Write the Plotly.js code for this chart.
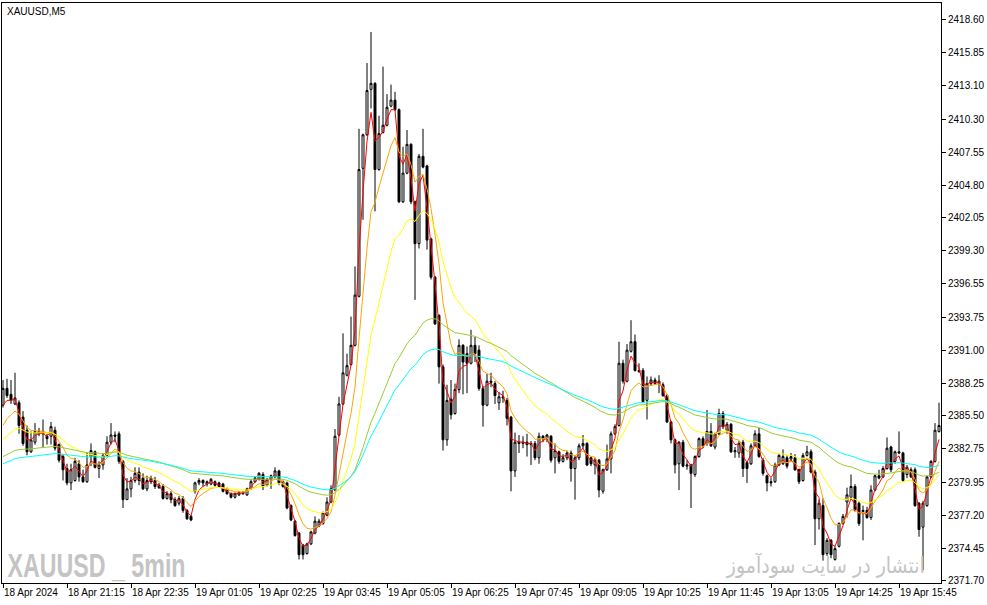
<!DOCTYPE html>
<html><head><meta charset="utf-8">
<script src="https://cdn.plot.ly/plotly-3.0.1.min.js"></script>
<style>html,body{margin:0;padding:0;background:#fff}#chart{width:987px;height:605px}</style>
</head><body><div id="chart"></div>
<script>
// XAUUSD M5 candles (bar index 0..234)
const opens = [
2386.4,2387.8,2387.3,2386.5,2386.6,2385.4,2384.3,2382.5,2383.3,2384.0,
2384.2,2383.8,2383.8,2384.3,2383.1,2382.1,2381.1,2379.9,2380.1,2381.5,
2380.4,2380.0,2382.1,2382.5,2381.1,2381.4,2382.2,2383.3,2383.9,2384.0,
2381.7,2378.5,2379.4,2380.1,2380.8,2380.3,2379.4,2380.0,2380.1,2379.7,
2379.6,2378.6,2379.0,2378.5,2378.2,2378.6,2377.6,2377.1,2379.2,2379.9,
2380.1,2379.8,2379.8,2380.0,2379.9,2379.8,2379.4,2379.0,2378.7,2378.9,
2379.0,2378.9,2379.4,2380.0,2380.2,2380.6,2379.7,2380.2,2380.4,2380.9,
2380.0,2379.9,2378.0,2376.7,2375.7,2374.7,2374.0,2374.8,2375.7,2376.3,
2376.5,2377.2,2378.3,2379.3,2383.9,2386.5,2388.9,2389.8,2391.4,2395.5,
2406.2,2409.0,2412.8,2413.3,2406.1,2409.2,2409.8,2411.4,2411.9,2411.1,
2403.4,2405.8,2408.2,2403.4,2399.9,2407.2,2406.4,2400.3,2397.1,2393.9,
2389.6,2383.5,2386.9,2385.7,2387.7,2391.4,2390.7,2389.9,2391.4,2391.0,
2387.8,2386.4,2388.3,2388.2,2386.6,2387.1,2386.8,2385.4,2380.9,2383.3,
2383.2,2383.3,2383.1,2383.2,2382.0,2383.8,2383.6,2383.8,2382.0,2382.5,
2381.7,2382.0,2382.4,2381.1,2382.0,2383.0,2383.2,2382.0,2381.4,2381.8,
2379.2,2381.0,2381.9,2384.0,2384.7,2389.9,2388.4,2390.9,2391.7,2389.3,
2389.3,2386.8,2388.2,2388.5,2388.2,2388.1,2387.2,2385.0,2383.5,2381.5,
2383.3,2381.3,2381.4,2380.6,2382.1,2383.6,2383.2,2384.2,2382.9,2384.0,
2385.7,2384.3,2384.8,2382.5,2382.4,2383.3,2381.6,2381.5,2383.0,2384.0,
2381.8,2380.5,2380.0,2380.0,2381.4,2381.5,2382.0,2381.9,2382.0,2381.0,
2380.1,2382.2,2382.5,2380.8,2376.9,2378.0,2374.0,2375.1,2373.5,2374.6,
2376.5,2378.3,2378.7,2379.6,2378.2,2377.5,2377.6,2377.0,2379.3,2380.5,
2380.4,2381.1,2382.9,2381.7,2382.5,2382.4,2380.6,2381.0,2381.0,2378.2,
2376.2,2378.0,2380.4,2381.7,2384.2
];
const highs = [
2388.5,2388.6,2388.5,2389.1,2386.8,2385.9,2384.7,2384.2,2384.9,2384.5,
2385.2,2384.0,2385.0,2384.6,2383.2,2382.3,2381.5,2381.5,2382.0,2381.8,
2381.0,2382.4,2383.2,2382.6,2381.7,2382.4,2383.8,2384.9,2384.2,2384.2,
2381.8,2380.3,2380.4,2381.2,2381.2,2380.7,2380.5,2380.5,2380.4,2379.9,
2379.8,2379.2,2379.2,2378.7,2378.8,2378.8,2377.7,2377.2,2380.0,2380.3,
2380.2,2380.1,2380.3,2380.1,2380.0,2379.9,2379.5,2379.1,2379.1,2379.2,
2379.2,2379.5,2380.2,2380.4,2380.8,2380.8,2380.3,2380.6,2381.2,2381.0,
2380.1,2380.0,2378.1,2376.8,2375.8,2374.8,2374.9,2375.9,2377.1,2376.9,
2377.5,2378.7,2379.7,2384.4,2387.1,2392.4,2390.7,2393.8,2398.0,2409.5,
2409.1,2415.0,2417.6,2413.4,2410.6,2414.7,2412.4,2413.2,2412.6,2411.2,
2408.0,2409.4,2408.3,2403.5,2407.4,2409.5,2406.5,2400.4,2397.2,2394.0,
2389.8,2388.1,2388.5,2388.2,2391.9,2391.5,2391.3,2392.7,2392.1,2391.4,
2388.0,2389.0,2389.1,2388.4,2387.5,2387.6,2387.0,2385.5,2384.1,2383.9,
2383.8,2384.0,2383.4,2383.4,2384.1,2383.9,2384.0,2383.9,2383.2,2382.6,
2382.3,2382.6,2382.6,2382.2,2383.2,2383.9,2383.3,2382.1,2382.0,2381.9,
2381.1,2383.1,2384.2,2384.8,2391.7,2390.2,2391.5,2393.5,2392.3,2389.9,
2389.5,2388.8,2388.8,2388.7,2388.9,2388.3,2387.3,2385.1,2383.6,2383.4,
2383.5,2381.8,2381.5,2382.2,2383.7,2383.8,2386.0,2384.9,2384.1,2386.1,
2385.9,2385.0,2384.9,2382.9,2383.4,2383.5,2381.7,2383.2,2384.3,2384.5,
2382.0,2380.6,2380.3,2381.6,2382.3,2382.7,2382.2,2382.4,2382.3,2381.1,
2382.4,2383.0,2382.7,2381.0,2378.5,2378.6,2375.3,2375.2,2374.6,2376.6,
2377.3,2379.5,2380.6,2379.8,2378.4,2378.0,2377.9,2379.7,2380.6,2381.0,
2381.3,2383.7,2383.0,2382.6,2384.2,2382.5,2381.4,2381.2,2381.2,2378.3,
2378.4,2380.5,2381.8,2384.9,2386.6
];
const lows = [
2386.2,2387.0,2386.5,2386.4,2384.0,2383.0,2382.2,2382.4,2383.1,2383.8,
2382.9,2383.1,2383.1,2382.6,2381.6,2380.1,2379.7,2379.3,2380.0,2380.0,
2379.9,2379.9,2381.3,2381.1,2380.3,2381.0,2382.1,2383.1,2383.3,2381.5,
2377.8,2378.5,2378.7,2379.9,2379.7,2379.3,2379.2,2379.8,2379.4,2379.4,
2378.5,2378.5,2378.2,2377.9,2378.0,2377.4,2376.8,2376.7,2379.0,2379.7,
2379.6,2379.6,2379.7,2379.6,2379.5,2379.1,2378.9,2378.6,2378.6,2378.8,
2378.9,2378.8,2379.3,2379.9,2380.1,2379.3,2379.6,2379.4,2380.3,2379.7,
2379.5,2377.7,2376.7,2375.4,2373.5,2373.5,2373.9,2374.7,2375.6,2376.2,
2376.4,2377.1,2378.2,2379.2,2383.8,2386.4,2388.8,2389.7,2391.3,2395.4,
2401.9,2408.9,2411.2,2402.6,2406.0,2409.1,2409.7,2411.3,2411.0,2403.3,
2403.3,2405.7,2403.2,2395.2,2399.5,2406.2,2399.4,2396.9,2393.1,2388.2,
2382.6,2383.0,2385.2,2385.6,2387.4,2387.3,2387.4,2389.8,2390.0,2387.6,
2384.6,2386.3,2387.9,2386.5,2386.0,2386.6,2384.7,2379.2,2380.4,2382.4,
2382.8,2382.1,2381.4,2381.8,2381.5,2383.3,2383.3,2381.6,2380.7,2381.5,
2381.6,2381.8,2380.0,2378.5,2381.8,2382.8,2381.3,2381.3,2380.6,2378.7,
2379.0,2380.9,2380.7,2383.9,2384.6,2388.2,2388.3,2390.8,2389.2,2389.1,
2386.6,2385.2,2388.0,2388.1,2387.4,2387.1,2384.9,2383.2,2380.7,2379.3,
2381.2,2381.0,2377.8,2380.4,2382.0,2382.8,2383.0,2382.9,2382.7,2383.9,
2384.4,2384.0,2382.4,2382.0,2382.0,2380.4,2379.9,2381.4,2382.9,2382.0,
2380.5,2379.2,2379.6,2379.9,2381.3,2381.4,2381.1,2381.8,2380.9,2379.8,
2380.0,2382.1,2380.7,2374.7,2376.0,2373.4,2373.8,2373.6,2373.4,2374.5,
2376.4,2377.0,2378.6,2377.5,2376.3,2375.1,2376.9,2376.8,2379.2,2380.2,
2380.3,2381.0,2380.8,2381.5,2382.3,2380.0,2380.3,2380.3,2377.9,2375.4,
2372.6,2377.9,2380.3,2381.6,2384.1
];
const closes = [
2387.8,2387.2,2386.8,2387.0,2384.7,2383.2,2382.5,2383.5,2384.2,2384.2,
2384.0,2383.6,2384.6,2382.8,2381.8,2381.0,2379.9,2381.0,2381.7,2380.4,
2380.0,2381.4,2382.6,2381.2,2381.4,2382.2,2383.3,2383.9,2383.8,2381.7,
2378.5,2379.4,2380.1,2380.7,2380.1,2379.4,2380.1,2380.3,2379.6,2379.5,
2378.6,2379.0,2378.5,2378.0,2378.6,2377.6,2376.9,2376.8,2379.9,2380.1,
2379.9,2380.0,2380.2,2379.7,2379.6,2379.2,2379.0,2378.7,2379.0,2379.1,
2379.1,2379.4,2380.0,2380.3,2380.7,2379.6,2380.2,2380.5,2380.9,2379.9,
2379.6,2377.8,2376.8,2375.5,2373.9,2373.9,2374.8,2375.8,2376.7,2376.7,
2377.4,2378.3,2379.4,2383.8,2386.5,2389.1,2389.7,2391.4,2395.6,2406.1,
2409.0,2412.7,2413.3,2406.1,2409.1,2409.8,2411.3,2411.9,2411.1,2403.4,
2405.8,2408.2,2403.4,2399.9,2407.2,2406.3,2400.2,2397.1,2393.2,2389.6,
2383.5,2386.8,2385.6,2387.7,2391.4,2390.0,2389.9,2391.4,2390.7,2387.8,
2386.4,2388.4,2388.4,2387.2,2387.1,2387.0,2385.3,2380.9,2383.3,2383.2,
2383.3,2383.1,2383.2,2382.0,2383.8,2383.6,2383.9,2381.8,2382.6,2381.7,
2382.0,2382.4,2381.1,2382.0,2383.0,2383.2,2381.4,2381.5,2381.8,2379.3,
2381.0,2381.9,2384.0,2384.6,2389.9,2388.4,2391.0,2391.7,2389.3,2389.2,
2386.7,2388.2,2388.5,2388.2,2388.4,2387.2,2385.0,2383.5,2381.4,2383.3,
2381.3,2381.4,2380.7,2382.1,2383.6,2383.0,2384.2,2383.0,2384.0,2385.7,
2384.6,2384.8,2382.5,2382.6,2383.2,2381.1,2381.1,2383.0,2384.0,2382.1,
2380.7,2379.9,2379.9,2381.4,2382.2,2382.1,2381.3,2382.1,2381.0,2380.0,
2382.2,2382.5,2380.8,2376.9,2378.2,2373.9,2375.1,2373.9,2374.4,2376.5,
2377.1,2378.9,2379.6,2377.6,2376.5,2377.6,2377.0,2379.3,2380.5,2380.3,
2381.1,2382.8,2381.0,2382.5,2382.4,2380.1,2381.2,2380.4,2378.0,2376.0,
2378.2,2380.4,2381.7,2384.3,2384.7
];

// Time axis labels (one every 16 bars)
const tickBars = [0,16,32,48,64,80,96,112,128,144,160,176,192,208,224];
const tickLabels = ["18 Apr 2024","18 Apr 21:15","18 Apr 22:35","19 Apr 01:05","19 Apr 02:25",
  "19 Apr 03:45","19 Apr 05:05","19 Apr 06:25","19 Apr 07:45","19 Apr 09:05",
  "19 Apr 10:25","19 Apr 11:45","19 Apr 13:05","19 Apr 14:25","19 Apr 15:45"];

// Price axis labels
const priceTicks = [2418.60,2415.85,2413.10,2410.30,2407.55,2404.80,2402.05,2399.30,2396.55,
  2393.75,2391.00,2388.25,2385.50,2382.75,2379.95,2377.20,2374.45,2371.70];
const priceLabels = ["2418.60","2415.85","2413.10","2410.30","2407.55","2404.80","2402.05","2399.30","2396.55",
  "2393.75","2391.00","2388.25","2385.50","2382.75","2379.95","2377.20","2374.45","2371.70"];

// Moving averages: periods, colours, and starting values
const maPeriods = [3, 8, 20, 55, 75];
const maColors = ["#ff0000", "#ffa500", "#ffff00", "#9acd32", "#00ffff"];
const maSeeds = [2386.4, 2384.7, 2383.5, 2382.1, 2381.5];

const bars = closes.map((_, i) => i);

function ema(values, period, seed) {
  const k = 2 / (period + 1);
  const out = [];
  let prev = seed;
  values.forEach((v, i) => {
    prev = i === 0 ? seed : prev + k * (v - prev);
    out.push(prev);
  });
  return out;
}

const traces = [{
  type: "candlestick",
  x: bars, open: opens, high: highs, low: lows, close: closes,
  increasing: {line: {color: "#000000", width: 1}, fillcolor: "#ffffff"},
  decreasing: {line: {color: "#000000", width: 1}, fillcolor: "#000000"},
  whiskerwidth: 0,
  hoverinfo: "skip",
  showlegend: false
}];
maPeriods.forEach((p, j) => {
  traces.push({
    type: "scatter", mode: "lines",
    x: bars, y: ema(closes, p, maSeeds[j]),
    line: {color: maColors[j], width: 1},
    hoverinfo: "skip", showlegend: false
  });
});

const layout = {
  width: 987, height: 605,
  margin: {l: 2, r: 46, t: 3, b: 22, pad: 0},
  paper_bgcolor: "#ffffff", plot_bgcolor: "#ffffff",
  font: {family: "Liberation Sans, Arial, sans-serif", size: 10, color: "#000000"},
  xaxis: {
    range: [-0.25, 234.5],
    showgrid: false, zeroline: false,
    showline: true, linecolor: "#000000", linewidth: 1, mirror: true,
    ticks: "outside", ticklen: 4, tickcolor: "#000000",
    tickvals: tickBars, ticktext: tickLabels,
    tickangle: 0,
    ticklabelposition: "outside right",
    rangeslider: {visible: false},
    fixedrange: true
  },
  yaxis: {
    side: "right",
    range: [2371.53, 2420.02],
    showgrid: false, zeroline: false,
    showline: true, linecolor: "#000000", linewidth: 1, mirror: true,
    ticks: "outside", ticklen: 4, tickcolor: "#000000",
    tickvals: priceTicks, ticktext: priceLabels,
    fixedrange: true
  },
  annotations: [
    {xref: "paper", yref: "paper", x: 0.003, y: 0.985, xanchor: "left", yanchor: "middle",
     text: "XAUUSD,M5", showarrow: false, font: {size: 10, color: "#000000"}},
    {xref: "paper", yref: "paper", x: 0.101, y: 0.031, xanchor: "center", yanchor: "middle",
     text: "<b>XAUUSD _ 5min</b>", showarrow: false,
     font: {family: "Liberation Sans, Arial, sans-serif", size: 33, color: "#c4c4c4"}},
    {xref: "paper", yref: "paper", x: 0.8775, y: 0.031, xanchor: "center", yanchor: "middle",
     text: "انتشار در سایت سودآموز", showarrow: false,
     font: {family: "DejaVu Sans, Noto Sans, sans-serif", size: 22, color: "#c4c4c4"}}
  ]
};

Plotly.newPlot("chart", traces, layout, {displayModeBar: false, staticPlot: true}).then(() => {
  const fits = {"XAUUSD _ 5min": 178, "انتشار در سایت سودآموز": 198};
  document.querySelectorAll("#chart text.annotation-text").forEach(t => {
    const w = fits[t.textContent];
    if (w) {
      t.setAttribute("textLength", w);
      t.setAttribute("lengthAdjust", "spacingAndGlyphs");
    }
  });
});
</script>
</body></html>
